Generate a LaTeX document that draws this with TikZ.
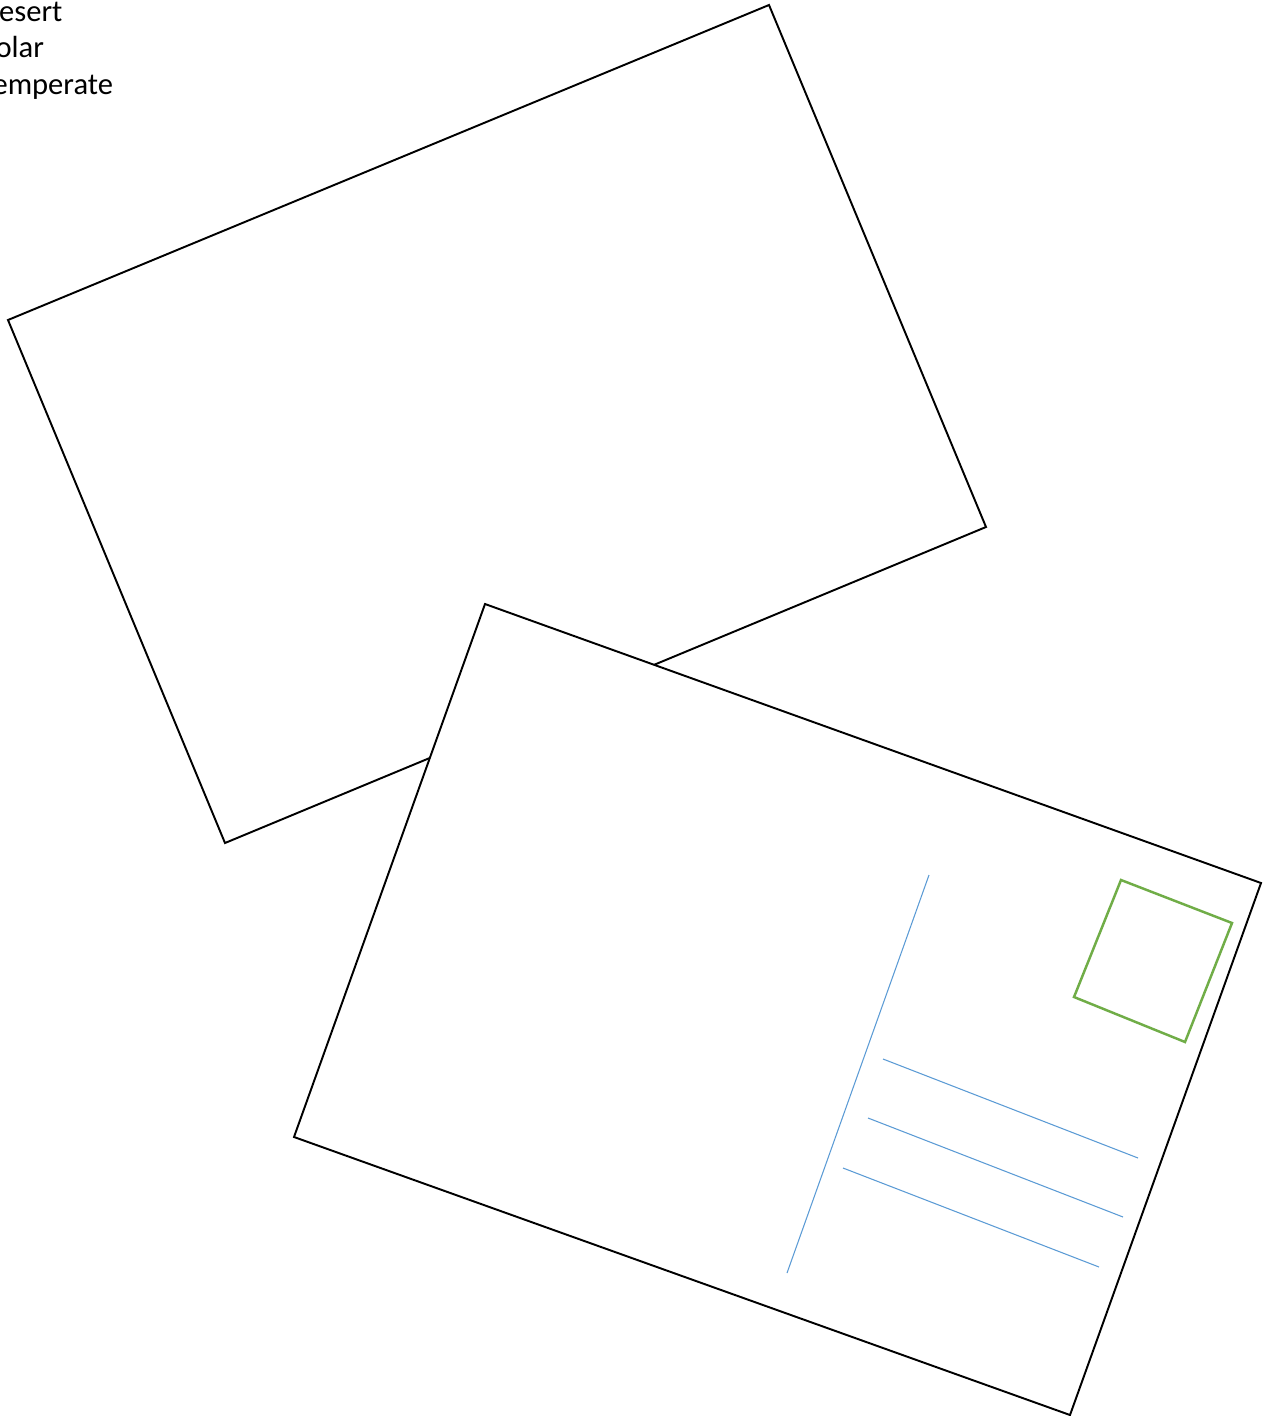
\documentclass[tikz,border=0pt]{standalone}
\usepackage{fontspec}
\setmainfont{Carlito}
\definecolor{stampgreen}{HTML}{70AD47}
\definecolor{lineblue}{HTML}{5B9BD5}
\tikzset{card/.style={draw=black, line width=1.1pt, line join=miter}}
\begin{document}
\begin{tikzpicture}[x=0.02cm, y=-0.02cm]
\useasboundingbox (0,0) rectangle (1267,1416);
\node[anchor=base west, inner sep=0pt, font=\fontsize{17.4}{21}\selectfont] (desert) at (-20,22) {Desert};
\node[anchor=base west, inner sep=0pt, font=\fontsize{17.4}{21}\selectfont] (polar) at (-20,58) {Polar};
\node[anchor=base west, inner sep=0pt, font=\fontsize{17.4}{21}\selectfont] (temperate) at (-20,94) {Temperate};
% back card
\draw[card, fill=white] (8,320) -- (769,5) -- (986,527) -- (225,843) -- cycle;
% front card
\draw[card, fill=white] (485,604) -- (1261,883) -- (1070,1415) -- (294,1137) -- cycle;
\draw[stampgreen, line width=1.4pt] (1121,880) -- (1232,923) -- (1185,1042) -- (1074,997) -- cycle;
\draw[lineblue, line width=0.6pt] (929,875) -- (787,1273);
\draw[lineblue, line width=0.6pt] (883,1059) -- (1138,1158);
\draw[lineblue, line width=0.6pt] (868,1118) -- (1123,1217);
\draw[lineblue, line width=0.6pt] (843,1168) -- (1099,1267);
\end{tikzpicture}
\end{document}
